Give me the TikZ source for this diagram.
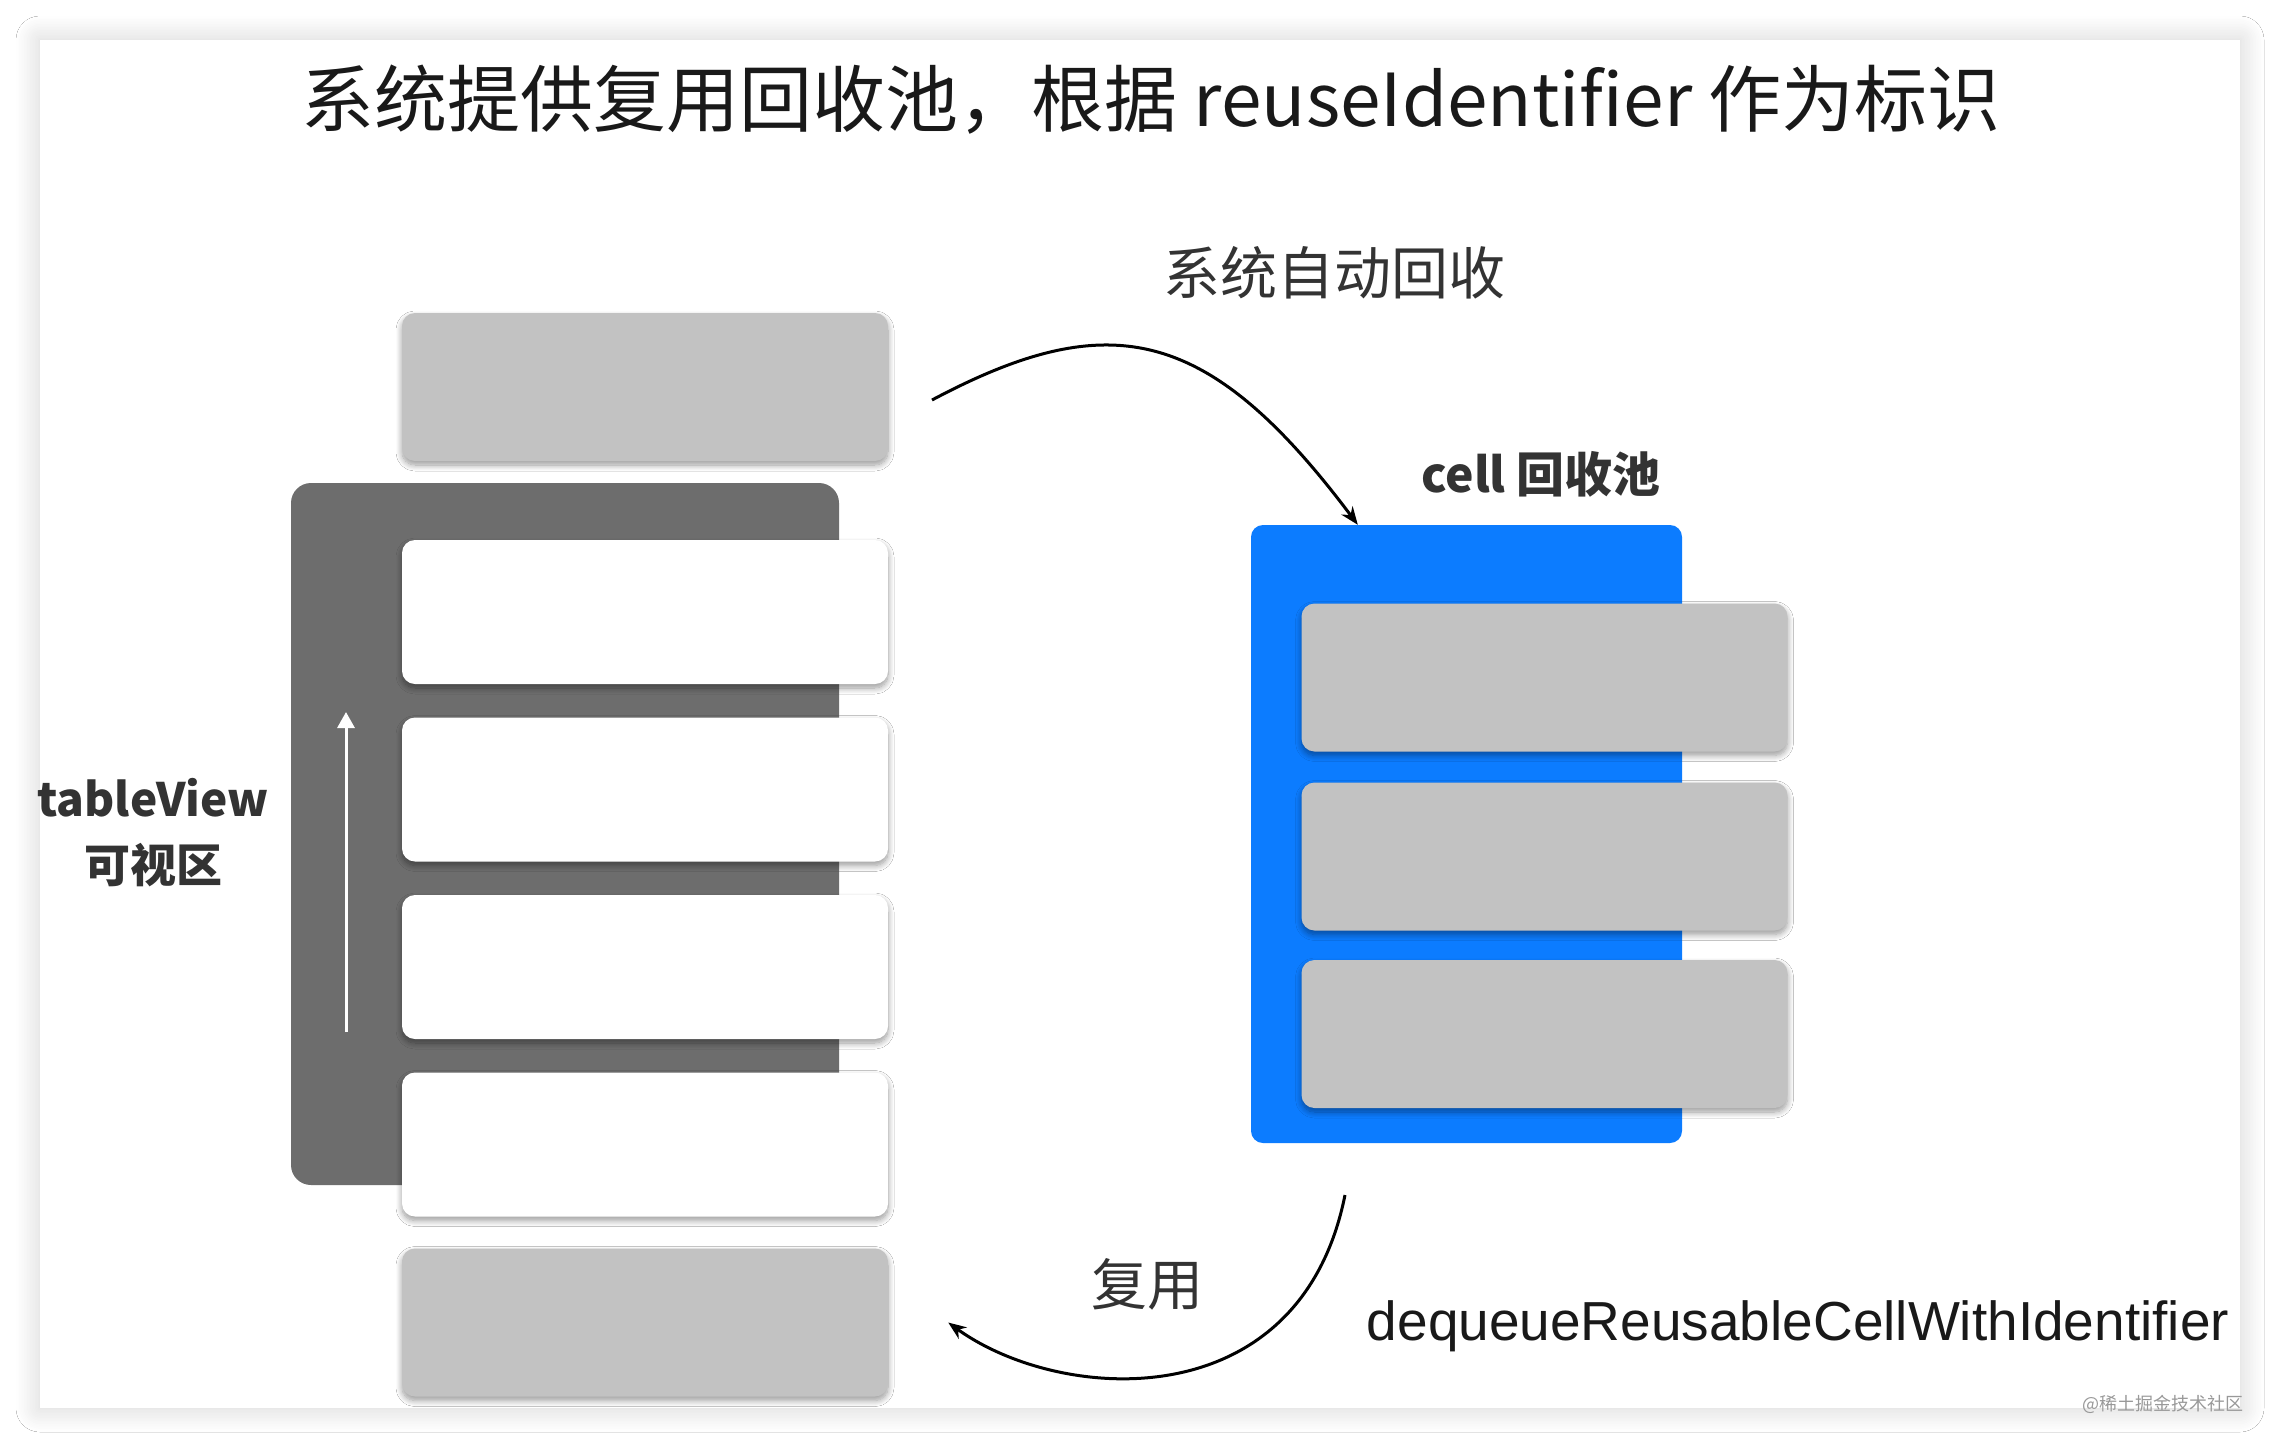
\documentclass[tikz,border=0pt]{standalone}
\usepackage{fontspec}
\setmainfont{Liberation Sans}
\newfontfamily\cjk{Noto Sans CJK SC}
\usetikzlibrary{arrows.meta,shadows.blur}

\definecolor{panelgray}{HTML}{6D6D6D}
\definecolor{cellgray}{HTML}{C2C2C2}
\definecolor{poolblue}{HTML}{0C7CFF}
\definecolor{labelgray}{HTML}{333333}

\begin{document}
\begin{tikzpicture}[x=1pt,y=-1pt,
	cellbox/.style={rounded corners=13pt, inner sep=0pt, minimum width=486pt, minimum height=144pt,
		blur shadow={shadow xshift=0pt, shadow yshift=-4pt, shadow blur radius=6pt, shadow opacity=40, shadow blur steps=10}},
	whitecell/.style={cellbox, fill=white},
	graycell/.style={cellbox, fill=cellgray, minimum height=148pt},
	arc/.style={line width=3pt, -{Stealth[length=18pt,width=14pt]}},
	plainlabel/.style={text=labelgray, inner sep=0pt, font=\cjk\fontsize{56}{68}\selectfont},
	boldlabel/.style={text=labelgray, inner sep=0pt, font=\cjk\bfseries\fontsize{48}{66}\selectfont}]

	\path[use as bounding box, fill=white] (0,0) rectangle (2280,1448);
	\fill[white, blur shadow={shadow xshift=0pt, shadow yshift=0pt, shadow blur radius=24pt, shadow opacity=18, shadow blur steps=16}]
		(40,40) rectangle (2240,1408);

	\node[text=black!90, inner sep=0pt, font=\cjk\fontsize{73}{88}\selectfont] (title) at (1151,100)
		{系统提供复用回收池，根据 reuseIdentifier 作为标识};

	% tableView
	\node[fill=panelgray, rounded corners=20pt, inner sep=0pt, minimum width=548pt, minimum height=702pt] (panel) at (565,834) {};
	\coordinate (scrollbot) at (346,1032);
	\coordinate (scrolltop) at (346,712);
	\draw[white, line width=3pt, -{Triangle[length=16pt,width=17pt]}] (scrollbot) -- (scrolltop);

	\node[graycell] (gtop) at (645,387) {};
	\node[whitecell] (w1) at (645,612) {};
	\node[whitecell] (w2) at (645,789.5) {};
	\node[whitecell] (w3) at (645,967) {};
	\node[whitecell] (w4) at (645,1144.5) {};
	\node[graycell] (gbot) at (645,1322.5) {};

	\node[boldlabel, align=center, font=\cjk\bfseries\fontsize{46}{66}\selectfont] (tv) at (153,833) {tableView\\可视区};

	% cell pool
	\node[fill=poolblue, rounded corners=12pt, inner sep=0pt, minimum width=431pt, minimum height=618pt] (pool) at (1466.5,834) {};
	\node[graycell] (p1) at (1544.5,677.5) {};
	\node[graycell] (p2) at (1544.5,856.5) {};
	\node[graycell] (p3) at (1544.5,1034) {};
	\node[boldlabel] (poolname) at (1541,474) {cell 回收池};

	% arrows
	\coordinate (gone) at (932,400);
	\draw[arc] (gone) .. controls +(177,-94) and +(-150,-200) .. ([xshift=107pt]pool.north west);
	\node[plainlabel, font=\cjk\fontsize{57}{68}\selectfont] (recycle) at (1334,273) {系统自动回收};

	\coordinate (reuse) at (1345,1195);
	\draw[arc] (reuse) .. controls +(-45,225) and +(112,81) .. ([xshift=60pt]gbot.east);
	\node[plainlabel] (reusename) at (1147,1284) {复用};
	\node[text=black!90, inner sep=0pt, font=\fontsize{55}{66}\selectfont] (dequeue) at (1798,1326) {dequeueReusableCellWithIdentifier};

	\node[text=black!40, inner sep=0pt, font=\cjk\fontsize{18}{22}\selectfont] (mark) at (2163,1404) {@稀土掘金技术社区};
\end{tikzpicture}
\end{document}
